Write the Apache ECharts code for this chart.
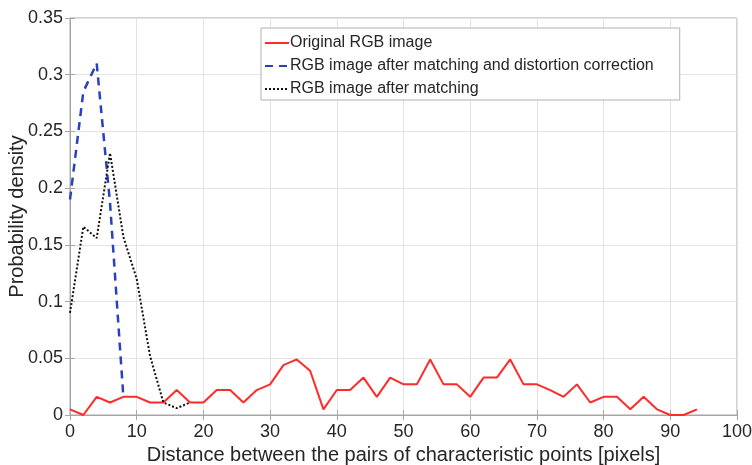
<!DOCTYPE html>
<html><head><meta charset="utf-8">
<script src="https://cdn.jsdelivr.net/npm/echarts@6/dist/echarts.min.js"></script>
<style>html,body{margin:0;padding:0;background:#fff}#c{width:752px;height:465px}</style>
</head><body><div id="c"></div>
<script>
var seriesNames = ['Original RGB image', 'RGB image after matching and distortion correction', 'RGB image after matching'];
var redX = [0,2,4,6,8,10,12,14,16,18,20,22,24,26,28,30,32,34,36,38,40,42,44,46,48,50,52,54,56,58,60,62,64,66,68,70,72,74,76,78,80,82,84,86,88,90,92,94];
var redY = [0.005,0,0.016,0.011,0.016,0.016,0.011,0.011,0.022,0.011,0.011,0.022,0.022,0.011,0.022,0.027,0.044,0.049,0.039,0.005,0.022,0.022,0.033,0.016,0.033,0.027,0.027,0.049,0.027,0.027,0.016,0.033,0.033,0.049,0.027,0.027,0.022,0.016,0.027,0.011,0.016,0.016,0.005,0.016,0.005,0,0,0.005];
var blueX = [0,2,4,6,8];
var blueY = [0.19,0.285,0.31,0.187,0.016];
var blackX = [0,2,4,6,8,10,12,14,16,18];
var blackY = [0.09,0.166,0.156,0.231,0.157,0.12,0.052,0.011,0.006,0.011];
var xTicks = {min:0, max:100, interval:10};
var yTicks = {min:0, max:0.35, interval:0.05};

function pairs(xs, ys){ return xs.map(function(x,i){ return [x, ys[i]]; }); }

var font = 'Liberation Sans, Arial, sans-serif';
var textColor = '#262626';
var chart = echarts.init(document.getElementById('c'), null, {renderer:'canvas'});
chart.setOption({
  animation:false,
  backgroundColor:'#ffffff',
  grid:{left:70, right:15, top:18, bottom:50, outerBoundsMode:'none', containLabel:false,
        show:true, borderColor:'#a6a6a6', borderWidth:1, backgroundColor:'transparent'},
  legend:{
    orient:'vertical', left:261, top:28,
    backgroundColor:'#ffffff', borderColor:'#b0b0b0', borderWidth:1,
    padding:[7,26,3,3], itemGap:7, itemWidth:24, itemHeight:16,
    itemStyle:{opacity:0},
    textStyle:{fontFamily:font, fontSize:16, color:textColor, padding:[0,0,0,-4]},
    data:seriesNames
  },
  xAxis:[{
    type:'value', min:xTicks.min, max:xTicks.max, interval:xTicks.interval,
    name:'Distance between the pairs of characteristic points [pixels]',
    nameLocation:'middle', nameGap:30, nameMoveOverlap:false,
    nameTextStyle:{fontFamily:font, fontSize:20, color:textColor},
    axisLine:{show:true, lineStyle:{color:'#a6a6a6'}},
    axisTick:{show:true, inside:true, length:5, lineStyle:{color:'#a6a6a6'}},
    axisLabel:{fontFamily:font, fontSize:18, color:textColor, margin:8},
    splitLine:{show:true, lineStyle:{color:'#e3e3e3', width:1}}
  },{
    type:'value', position:'top', min:xTicks.min, max:xTicks.max, interval:xTicks.interval,
    axisLine:{show:false}, axisTick:{show:true, inside:true, length:5, lineStyle:{color:'#a6a6a6'}},
    axisLabel:{show:false}, splitLine:{show:false}
  }],
  yAxis:[{
    type:'value', min:yTicks.min, max:yTicks.max, interval:yTicks.interval,
    name:'Probability density', nameLocation:'middle', nameGap:43, nameMoveOverlap:false,
    nameTextStyle:{fontFamily:font, fontSize:20, color:textColor},
    axisLine:{show:true, lineStyle:{color:'#a6a6a6'}},
    axisTick:{show:true, inside:true, length:5, lineStyle:{color:'#a6a6a6'}},
    axisLabel:{fontFamily:font, fontSize:18, color:textColor, margin:7},
    splitLine:{show:true, lineStyle:{color:'#e3e3e3', width:1}}
  },{
    type:'value', position:'right', min:yTicks.min, max:yTicks.max, interval:yTicks.interval,
    axisLine:{show:false}, axisTick:{show:true, inside:true, length:5, lineStyle:{color:'#a6a6a6'}},
    axisLabel:{show:false}, splitLine:{show:false}
  }],
  series:[
    {name:seriesNames[0], type:'line', symbol:'none', data:pairs(redX, redY), z:3,
     lineStyle:{color:'#ff2a2a', width:2}, itemStyle:{color:'#ff2a2a'}},
    {name:seriesNames[1], type:'line', symbol:'none', data:pairs(blueX, blueY), z:4,
     lineStyle:{color:'#2940c0', width:2.5, type:[8,6]}, itemStyle:{color:'#2940c0'}},
    {name:seriesNames[2], type:'line', symbol:'none', data:pairs(blackX, blackY), z:5,
     lineStyle:{color:'#111111', width:2, type:[2,2]}, itemStyle:{color:'#111111'}}
  ]
});
</script></body></html>
